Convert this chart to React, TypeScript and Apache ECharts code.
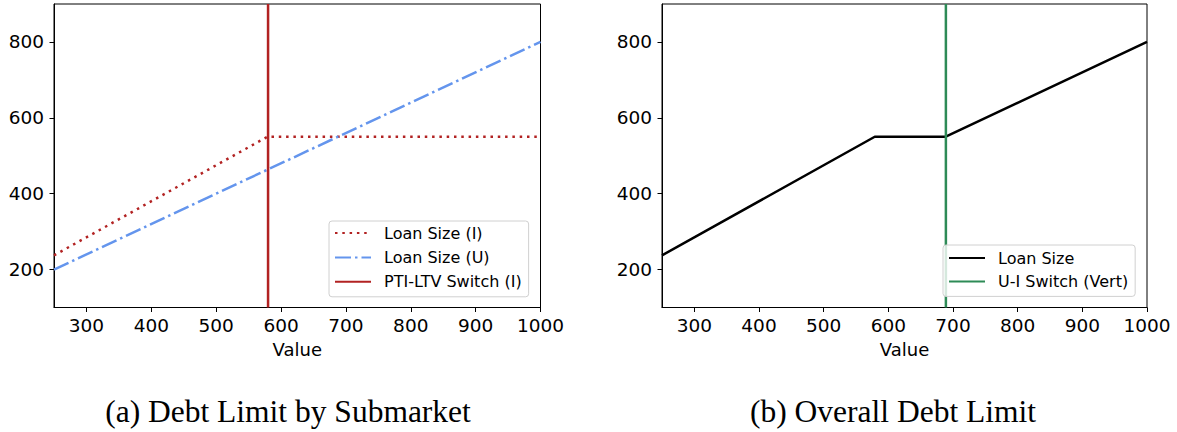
import React, { useEffect, useRef } from "react";
import * as echarts from "echarts";

// ---- data ----
const loanIX = [250, 579, 1000];
const loanIY = [237.5, 550, 550];
const loanUX = [250, 1000];
const loanUY = [200, 800];
const switchIX = [580, 580];
const switchY = [100, 900];
const overallX = [250, 579, 688, 1000];
const overallY = [237.5, 550, 550, 800];
const switchUIX = [689, 689];

const xTicks = [300, 400, 500, 600, 700, 800, 900, 1000];
const yTicks = [200, 400, 600, 800];
const captions = ["(a) Debt Limit by Submarket", "(b) Overall Debt Limit"];

const zip = (xs: number[], ys: number[]) => xs.map((x, i) => [x, ys[i]]);

const FONT = "DejaVu Sans";

function makeX(gridIndex: number) {
  return {
    type: "value",
    gridIndex,
    min: 250,
    max: 1000,
    name: "Value",
    nameLocation: "middle",
    nameGap: 33,
    nameTextStyle: { fontFamily: FONT, fontSize: 18, color: "#000" },
    axisLine: { show: true, onZero: false, lineStyle: { color: "#000", width: 1 } },
    axisTick: { show: true, length: 4.5, lineStyle: { color: "#000" }, customValues: xTicks },
    axisLabel: {
      fontFamily: FONT, fontSize: 18.5, color: "#000", margin: 8, customValues: xTicks,
      formatter: (v: number) => String(v),
    },
    splitLine: { show: false },
  };
}

function makeY(gridIndex: number) {
  return {
    type: "value",
    gridIndex,
    min: 100,
    max: 900,
    axisLine: { show: true, onZero: false, lineStyle: { color: "#000", width: 1 } },
    axisTick: { show: true, length: 4.5, lineStyle: { color: "#000" }, customValues: yTicks },
    axisLabel: {
      fontFamily: FONT, fontSize: 18.5, color: "#000", margin: 10, customValues: yTicks,
      formatter: (v: number) => String(v),
    },
    splitLine: { show: false },
  };
}

function makeLegend(left: number, top: number, names: string[], gap: number, padding: number[]) {
  return {
    orient: "vertical",
    left,
    top,
    data: names,
    itemWidth: 36,
    itemHeight: 14,
    itemGap: gap,
    padding,
    borderColor: "#d0d0d0",
    borderWidth: 1,
    borderRadius: 3,
    backgroundColor: "rgba(255,255,255,0.8)",
    selectedMode: false,
    itemStyle: { opacity: 0 },
    textStyle: { fontFamily: FONT, fontSize: 16, color: "#000", padding: [0, 0, 0, 8] },
  };
}

export default function App() {
  const ref = useRef<HTMLDivElement>(null);
  useEffect(() => {
    if (!ref.current) return;
    const chart = echarts.init(ref.current, undefined, { renderer: "svg" });
    const option: any = {
      animation: false,
      backgroundColor: "#fff",
      grid: [
        { left: 54, top: 4, width: 486.5, height: 303.5, show: true, borderColor: "#000", borderWidth: 1, backgroundColor: "transparent" },
        { left: 662, top: 4, width: 485, height: 303.5, show: true, borderColor: "#000", borderWidth: 1, backgroundColor: "transparent" },
      ],
      xAxis: [makeX(0), makeX(1)],
      yAxis: [makeY(0), makeY(1)],
      legend: [
        makeLegend(329, 221, ["Loan Size (I)", "Loan Size (U)", "PTI-LTV Switch (I)"], 8.4, [4, 7, 7, 5]),
        makeLegend(943, 245, ["Loan Size", "U-I Switch (Vert)"], 7.4, [5, 7, 7, 5]),
      ],
      series: [
        {
          name: "Loan Size (I)", type: "line", xAxisIndex: 0, yAxisIndex: 0,
          data: zip(loanIX, loanIY), symbol: "none",
          lineStyle: { color: "#B22222", width: 2.5, type: [2.5, 4.8] },
          itemStyle: { color: "#B22222" },
        },
        {
          name: "Loan Size (U)", type: "line", xAxisIndex: 0, yAxisIndex: 0,
          data: zip(loanUX, loanUY), symbol: "none",
          lineStyle: { color: "#6495ED", width: 2.5, type: [16, 4, 2.5, 4] },
          itemStyle: { color: "#6495ED" },
        },
        {
          name: "PTI-LTV Switch (I)", type: "line", xAxisIndex: 0, yAxisIndex: 0,
          data: zip(switchIX, switchY), symbol: "none",
          lineStyle: { color: "#B22222", width: 2.5 },
          itemStyle: { color: "#B22222" },
        },
        {
          name: "Loan Size", type: "line", xAxisIndex: 1, yAxisIndex: 1,
          data: zip(overallX, overallY), symbol: "none",
          lineStyle: { color: "#000", width: 2.5 },
          itemStyle: { color: "#000" },
        },
        {
          name: "U-I Switch (Vert)", type: "line", xAxisIndex: 1, yAxisIndex: 1,
          data: zip(switchUIX, switchY), symbol: "none",
          lineStyle: { color: "#2E8B57", width: 2.5 },
          itemStyle: { color: "#2E8B57" },
        },
      ],
      graphic: [
        {
          type: "text", x: 288, y: 411,
          style: { text: captions[0], fontFamily: "Liberation Serif", fontSize: 31.5, fill: "#000", align: "center", verticalAlign: "middle" },
        },
        {
          type: "text", x: 893, y: 411,
          style: { text: captions[1], fontFamily: "Liberation Serif", fontSize: 31.5, fill: "#000", align: "center", verticalAlign: "middle" },
        },
      ],
    };
    chart.setOption(option);
    return () => chart.dispose();
  }, []);
  return (
    <div
      ref={ref}
      style={{ position: "absolute", left: 0, top: 0, width: 1177, height: 432 }}
    />
  );
}
